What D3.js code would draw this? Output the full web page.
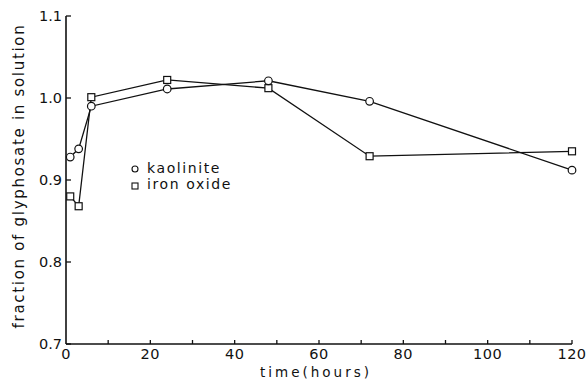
<!DOCTYPE html>
<html>
<head>
<meta charset="utf-8">
<script src="https://cdn.jsdelivr.net/npm/d3@7"></script>
<style>
  body { margin: 0; background: #fff; }
  svg { display: block; }
  text { font-family: "DejaVu Sans", sans-serif; fill: #111; }
</style>
</head>
<body>
<svg id="chart" width="587" height="380"></svg>
<script>
// 시간 (hours)
const kaoliniteTime = [1, 3, 6, 24, 48, 72, 120];
const kaoliniteValues = [0.928, 0.938, 0.990, 1.011, 1.021, 0.996, 0.912];
const ironTime = [1, 3, 6, 24, 48, 72, 120];
const ironValues = [0.880, 0.868, 1.001, 1.022, 1.012, 0.929, 0.935];
const xTicks = [0, 20, 40, 60, 80, 100, 120];
const yTicks = [0.7, 0.8, 0.9, 1.0, 1.1];
const yTickLabels = ['0.7', '0.8', '0.9', '1.0', '1.1'];

const svg = d3.select('#chart');
const x = d3.scaleLinear().domain([0, 120]).range([66, 572]);
const y = d3.scaleLinear().domain([0.7, 1.1]).range([344, 16]);

const axisColor = '#111';

// x 축
const xAxis = svg.append('g').attr('transform', `translate(0,${y(0.7)})`);
xAxis.append('line')
  .attr('x1', x(0)).attr('x2', x(120))
  .attr('stroke', axisColor).attr('stroke-width', 1.6);
xAxis.selectAll('line.tick')
  .data(d3.range(10, 121, 10))
  .join('line')
  .attr('class', 'tick')
  .attr('x1', d => x(d)).attr('x2', d => x(d))
  .attr('y1', 0).attr('y2', -4)
  .attr('stroke', axisColor).attr('stroke-width', 1.3);
xAxis.selectAll('text')
  .data(xTicks)
  .join('text')
  .attr('x', d => x(d))
  .attr('y', 15)
  .attr('text-anchor', 'middle')
  .attr('font-size', 14.5)
  .attr('letter-spacing', 0.5)
  .text(d => d);

// y 축
const yAxis = svg.append('g').attr('transform', `translate(${x(0)},0)`);
yAxis.append('line')
  .attr('y1', y(0.7)).attr('y2', y(1.1))
  .attr('stroke', axisColor).attr('stroke-width', 1.6);
yAxis.selectAll('line.tick')
  .data(yTicks)
  .join('line')
  .attr('class', 'tick')
  .attr('y1', d => y(d)).attr('y2', d => y(d))
  .attr('x1', 0).attr('x2', 5)
  .attr('stroke', axisColor).attr('stroke-width', 1.3);
yAxis.selectAll('text')
  .data(yTicks)
  .join('text')
  .attr('x', -4)
  .attr('y', d => y(d) + 5)
  .attr('text-anchor', 'end')
  .attr('font-size', 14.5)
  .text((d, i) => yTickLabels[i]);

// 축 제목
svg.append('text')
  .attr('x', 316).attr('y', 377)
  .attr('text-anchor', 'middle')
  .attr('font-size', 13.5)
  .attr('letter-spacing', 3)
  .text('time(hours)');
svg.append('text')
  .attr('transform', 'translate(24,176) rotate(-90)')
  .attr('text-anchor', 'middle')
  .attr('font-size', 15)
  .attr('letter-spacing', 1.7)
  .text('fraction of glyphosate in solution');

// 선
const line = d3.line().x(d => x(d[0])).y(d => y(d[1]));
const kaoliniteData = kaoliniteTime.map((t, i) => [t, kaoliniteValues[i]]);
const ironData = ironTime.map((t, i) => [t, ironValues[i]]);

svg.append('path').datum(kaoliniteData)
  .attr('d', line).attr('fill', 'none')
  .attr('stroke', axisColor).attr('stroke-width', 1.3);
svg.append('path').datum(ironData)
  .attr('d', line).attr('fill', 'none')
  .attr('stroke', axisColor).attr('stroke-width', 1.3);

// 마커
svg.selectAll('rect.iron')
  .data(ironData)
  .join('rect')
  .attr('class', 'iron')
  .attr('x', d => x(d[0]) - 3.5).attr('y', d => y(d[1]) - 3.5)
  .attr('width', 7).attr('height', 7)
  .attr('fill', '#fff').attr('stroke', axisColor).attr('stroke-width', 1.2);
svg.selectAll('circle.kaolinite')
  .data(kaoliniteData)
  .join('circle')
  .attr('class', 'kaolinite')
  .attr('cx', d => x(d[0])).attr('cy', d => y(d[1]))
  .attr('r', 3.8)
  .attr('fill', '#fff').attr('stroke', axisColor).attr('stroke-width', 1.2);

// 범례
svg.append('circle')
  .attr('cx', 135).attr('cy', 169).attr('r', 3)
  .attr('fill', '#fff').attr('stroke', axisColor).attr('stroke-width', 1.1);
svg.append('rect')
  .attr('x', 132).attr('y', 183).attr('width', 6).attr('height', 6)
  .attr('fill', '#fff').attr('stroke', axisColor).attr('stroke-width', 1.1);
svg.append('text')
  .attr('x', 147).attr('y', 173)
  .attr('font-size', 14).attr('letter-spacing', 1.6)
  .text('kaolinite');
svg.append('text')
  .attr('x', 147).attr('y', 189)
  .attr('font-size', 14).attr('letter-spacing', 1.6)
  .text('iron oxide');
</script>
</body>
</html>
